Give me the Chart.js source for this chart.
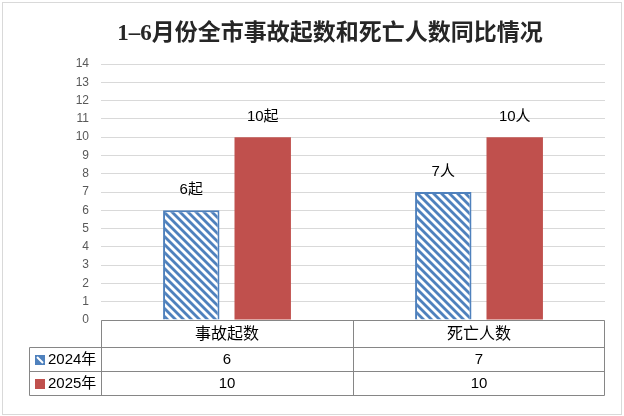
<!DOCTYPE html>
<html><head><meta charset="utf-8">
<script src="https://cdn.jsdelivr.net/npm/chart.js@4.4.1/dist/chart.umd.min.js"></script>
<style>html,body{margin:0;padding:0;background:#fff}</style>
</head><body>
<canvas id="c" width="624" height="416" style="width:624px;height:416px;display:block"></canvas>
<script>
const titleText = "1–6月份全市事故起数和死亡人数同比情况";
const categories = ["事故起数", "死亡人数"];
const units = ["起", "人"];
const seriesNames = ["2024年", "2025年"];
const values2024 = [6, 7];
const values2025 = [10, 10];
const yMin = 0, yMax = 14, yStep = 1;

const BLUE = "#4F81BD", RED = "#C0504D", GRID = "#D9D9D9", TABLE = "#868686";
const CJK = "'Liberation Sans','Noto Sans CJK SC',sans-serif";

function makeHatch() {
  const t = document.createElement("canvas");
  t.width = 8; t.height = 8;
  const g = t.getContext("2d");
  g.fillStyle = "#fff"; g.fillRect(0, 0, 8, 8);
  g.strokeStyle = BLUE; g.lineWidth = 2.8;
  [[-8, 0], [0, 0], [8, 0]].forEach(([dx]) => {
    g.beginPath(); g.moveTo(dx - 1, -1); g.lineTo(dx + 9, 9); g.stroke();
  });
  return document.getElementById("c").getContext("2d").createPattern(t, "repeat");
}
const hatch = makeHatch();

const framePlugin = {
  id: "frame",
  beforeDraw(chart) {
    const c = chart.ctx;
    c.save();
    c.fillStyle = "#fff"; c.fillRect(0, 0, chart.width, chart.height);
    c.strokeStyle = GRID; c.lineWidth = 1;
    c.strokeRect(2.5, 2.5, chart.width - 5, chart.height - 4);
    c.restore();
  },
  afterDraw(chart) {
    const c = chart.ctx;
    c.save();
    c.fillStyle = "#262626";
    c.font = "bold 23px 'Liberation Serif','Noto Sans CJK SC',serif";
    c.textAlign = "center"; c.textBaseline = "middle";
    c.fillText(titleText, 330, 34);
    c.restore();
  }
};

const labelPlugin = {
  id: "labels",
  afterDatasetsDraw(chart) {
    const c = chart.ctx;
    c.save();
    c.fillStyle = "#000";
    c.font = "15px " + CJK;
    c.textAlign = "center"; c.textBaseline = "middle";
    chart.data.datasets.forEach((ds, di) => {
      chart.getDatasetMeta(di).data.forEach((bar, i) => {
        c.fillText(ds.data[i] + units[i], bar.x, bar.y - 20);
      });
    });
    c.restore();
  }
};

const tablePlugin = {
  id: "table",
  afterDraw(chart) {
    const c = chart.ctx, x = chart.scales.x, a = chart.chartArea;
    const n = categories.length;
    const colW = (a.right - a.left) / n;
    const legendLeft = 29.5;
    const rows = [a.bottom, a.bottom + 26.5, a.bottom + 50.5, a.bottom + 75];
    const L = Math.round(a.left) + 0.5, R = Math.round(a.right) - 0.5;
    c.save();
    c.strokeStyle = TABLE; c.lineWidth = 1;
    c.beginPath();
    // horizontal lines
    const ry = rows.map(v => Math.round(v) + 0.5);
    c.moveTo(L, ry[0]); c.lineTo(R, ry[0]);
    for (let k = 1; k < ry.length; k++) { c.moveTo(legendLeft, ry[k]); c.lineTo(R, ry[k]); }
    // vertical lines
    c.moveTo(legendLeft, ry[1]); c.lineTo(legendLeft, ry[3]);
    for (let i = 0; i <= n; i++) {
      const vx = Math.round(a.left + i * colW) + (i === n ? -0.5 : 0.5);
      c.moveTo(vx, ry[0]); c.lineTo(vx, ry[3]);
    }
    c.stroke();

    c.fillStyle = "#000";
    c.textAlign = "center"; c.textBaseline = "middle";
    c.font = "16px " + CJK;
    categories.forEach((cat, i) => c.fillText(cat, x.getPixelForValue(i), (rows[0] + rows[1]) / 2 + 1));
    c.font = "15px " + CJK;
    chart.data.datasets.forEach((ds, di) => {
      const cy = (rows[di + 1] + rows[di + 2]) / 2 + 1;
      ds.data.forEach((v, i) => c.fillText(String(v), x.getPixelForValue(i), cy));
      // legend key
      const kx = 35, ky = Math.round(cy) - 5;
      if (di === 0) {
        c.fillStyle = BLUE; c.fillRect(kx, ky, 10, 10);
        c.strokeStyle = "#fff"; c.lineWidth = 2;
        c.beginPath(); c.moveTo(kx + 2, ky + 2); c.lineTo(kx + 8, ky + 8); c.stroke();
      } else {
        c.fillStyle = RED; c.fillRect(kx, ky, 10, 10);
      }
      c.fillStyle = "#000";
      c.textAlign = "left";
      c.fillText(ds.label, 48, cy);
      c.textAlign = "center";
    });
    c.restore();
  }
};

new Chart(document.getElementById("c"), {
  type: "bar",
  data: {
    labels: categories,
    datasets: [
      { label: seriesNames[0], data: values2024, backgroundColor: hatch, borderColor: BLUE, borderWidth: 2 },
      { label: seriesNames[1], data: values2025, backgroundColor: RED, borderWidth: 0 }
    ]
  },
  options: {
    responsive: false,
    animation: false,
    devicePixelRatio: 1,
    layout: { padding: { top: 64, right: 19, bottom: 96, left: 0 } },
    datasets: { bar: { categoryPercentage: 0.567, barPercentage: 0.79 } },
    plugins: { legend: { display: false }, title: { display: false }, tooltip: { enabled: false } },
    scales: {
      x: { display: false },
      y: {
        min: yMin, max: yMax,
        ticks: { stepSize: yStep, padding: 12, color: "#595959", font: { size: 12, family: "'Liberation Sans',sans-serif" } },
        grid: { color: GRID, drawTicks: false },
        border: { display: false },
        afterFit(s) { s.width = 101; }
      }
    }
  },
  plugins: [framePlugin, labelPlugin, tablePlugin]
});
</script>
</body></html>
